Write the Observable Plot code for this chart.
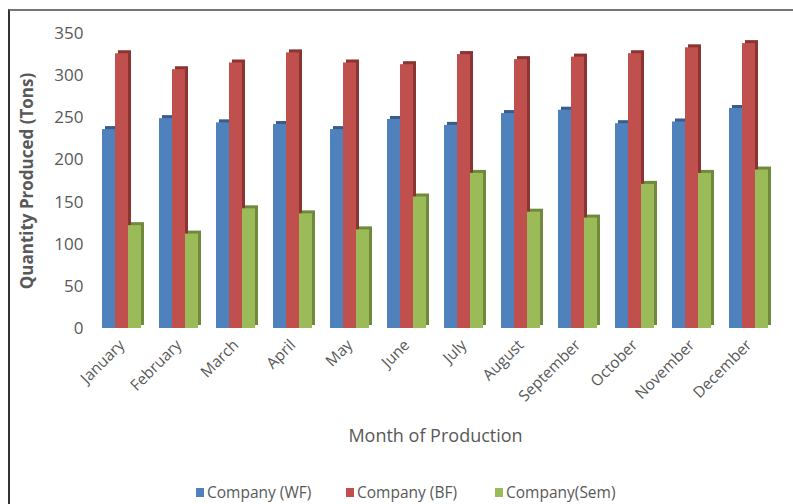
<!DOCTYPE html>
<html>
<head>
<meta charset="utf-8">
<script src="https://cdn.jsdelivr.net/npm/d3@7"></script>
<script src="https://cdn.jsdelivr.net/npm/@observablehq/plot@0.6"></script>
<style>
  html, body { margin: 0; padding: 0; background: #fff; }
  #wrap { position: relative; width: 793px; height: 504px; overflow: hidden; font-family: "Open Sans", sans-serif; }
  #frame { position: absolute; left: 8px; top: 9px; right: -10px; bottom: -10px;
           border-top: 2px solid #767676; border-left: 2px solid #333; pointer-events: none; }
  #chart { position: absolute; left: 0; top: 0; }
  #legend { position: absolute; left: 0; top: 481px; width: 793px; height: 22px;
            font-size: 15.5px; color: #595959; white-space: nowrap; }
  #legend .item { position: absolute; top: 0; display: flex; align-items: center; height: 22px; }
  #legend .sw { width: 8px; height: 9px; margin-right: 3px; }
</style>
</head>
<body>
<div id="wrap">
  <div id="chart"></div>
  <div id="legend"></div>
  <div id="frame"></div>
</div>
<script>
// Monthly production by company (tons)
const months = ["January", "February", "March", "April", "May", "June",
                "July", "August", "September", "October", "November", "December"];
const series = ["Company (WF)", "Company (BF)", "Company(Sem)"];
const wf  = [236, 249, 244, 242, 236, 248, 241, 255, 259, 243, 245, 261];
const bf  = [326, 307, 315, 327, 315, 313, 325, 319, 322, 326, 333, 338];
const sem = [122, 112, 142, 136, 117, 156, 184, 138, 131, 171, 184, 188];
const yTicks = [0, 50, 100, 150, 200, 250, 300, 350];

const frontColors = ["#4F81BD", "#C0504D", "#9BBB59"];
const sideColors  = ["#385D8A", "#8A3532", "#6F8A3C"];

const values = [wf, bf, sem];
const rows = months.flatMap((m, i) => series.map((s, j) => ({month: m, series: s, value: values[j][i]})));

// each series: a darker offset copy (the depth face) followed by the front face
const barMarks = series.flatMap((s, j) => {
  const sub = rows.filter(d => d.series === s);
  return [
    Plot.barY(sub, {fx: "month", x: "series", y: "value", fill: sideColors[j], dx: 3, dy: -3}),
    Plot.barY(sub, {fx: "month", x: "series", y: "value", fill: frontColors[j]})
  ];
});

const chart = Plot.plot({
  width: 793,
  height: 478,
  marginLeft: 89,
  marginRight: 12,
  marginTop: 33,
  marginBottom: 150,
  style: {fontFamily: "Open Sans, sans-serif", color: "#595959", background: "transparent"},
  fx: {domain: months, paddingInner: 0.32, paddingOuter: 0.16, label: null},
  x: {domain: series, padding: 0, axis: null},
  y: {domain: [0, 350]},
  marks: [
    ...barMarks,
    Plot.axisY({ticks: yTicks, tickSize: 0, tickPadding: 19, fontSize: 17, label: null}),
    Plot.axisY({ticks: [], label: "Quantity Produced (Tons)", labelAnchor: "center", labelArrow: "none",
                labelOffset: 82, fontSize: 17, fontWeight: "bold"}),
    Plot.axisFx({anchor: "bottom", tickRotate: -45, tickSize: 0, tickPadding: 14, fontSize: 15.5, label: null}),
    Plot.axisFx({anchor: "bottom", ticks: [], label: "Month of Production", labelAnchor: "center",
                 labelArrow: "none", labelOffset: 113, fontSize: 18})
  ]
});
document.getElementById("chart").appendChild(chart);

// legend below the plot
const legend = document.getElementById("legend");
const legendLeft = [196, 346, 495];
series.forEach((s, j) => {
  const item = document.createElement("div");
  item.className = "item";
  item.style.left = legendLeft[j] + "px";
  const sw = document.createElement("span");
  sw.className = "sw";
  sw.style.background = frontColors[j];
  const label = document.createElement("span");
  label.textContent = s;
  item.append(sw, label);
  legend.appendChild(item);
});
</script>
</body>
</html>
